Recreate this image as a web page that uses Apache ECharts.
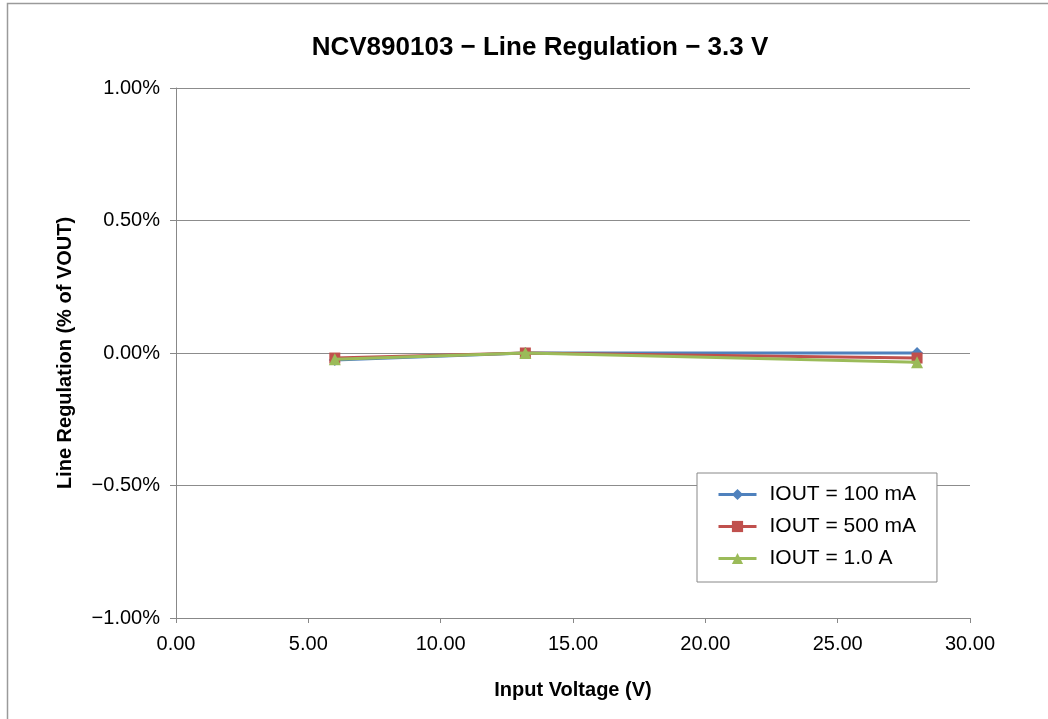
<!DOCTYPE html>
<html><head><meta charset="utf-8">
<script src="https://cdn.jsdelivr.net/npm/echarts@6/dist/echarts.min.js"></script>
<style>html,body{margin:0;padding:0;background:#fff}#c{width:1048px;height:719px}</style>
</head><body><div id="c"></div>
<script>
const inputVoltage = [6.0, 13.2, 28.0];
const iout100mA = [-0.026, 0.0, 0.0];
const iout500mA = [-0.019, 0.0, -0.019];
const iout1A = [-0.024, 0.0, -0.035];
const seriesNames = ['IOUT = 100 mA', 'IOUT = 500 mA', 'IOUT = 1.0 A'];
const seriesValues = [iout100mA, iout500mA, iout1A];
const colors = ['#4F81BD', '#C0504D', '#9BBB59'];
const symbols = ['diamond', 'rect', 'triangle'];
const symbolSizes = [12, 11, 12];

const font = '"Liberation Sans", Arial, Helvetica, sans-serif';
const chart = echarts.init(document.getElementById('c'), null, {renderer: 'canvas'});
const fmtY = v => (v < 0 ? '\u2212' + Math.abs(v).toFixed(2) : v.toFixed(2)) + '%';
chart.setOption({
  animation: false,
  textStyle: {fontFamily: font},
  graphic: [{type: 'rect', shape: {x: 7.5, y: 3.5, width: 1100, height: 800}, style: {fill: 'none', stroke: '#9a9a9a', lineWidth: 1.5}, silent: true, z: -1}],
  title: {text: 'NCV890103 \u2212 Line Regulation \u2212 3.3 V', left: 535, top: 30, textAlign: 'center',
    textStyle: {fontFamily: font, fontSize: 26, fontWeight: 'bold', color: '#000'}},
  grid: {left: 176, right: 78, top: 88, bottom: 101, containLabel: false},
  legend: {orient: 'vertical', left: 697, top: 473,
    padding: [11, 21, 13, 20], itemGap: 11, itemWidth: 38, itemHeight: 14,
    backgroundColor: '#fff', borderColor: '#888', borderWidth: 1,
    lineStyle: {width: 3},
    textStyle: {fontFamily: font, fontSize: 21, lineHeight: 20, color: '#000', padding: [0, 0, 0, 8]},
    data: seriesNames},
  xAxis: {type: 'value', min: 0, max: 30, interval: 5,
    name: 'Input Voltage (V)', nameLocation: 'middle', nameGap: 62,
    nameTextStyle: {fontFamily: font, fontSize: 20, fontWeight: 'bold', color: '#000'},
    axisLine: {show: true, onZero: false, lineStyle: {color: '#888', width: 1}},
    axisTick: {show: true, length: 5, lineStyle: {color: '#888'}},
    axisLabel: {fontFamily: font, fontSize: 20, color: '#000', margin: 16, formatter: v => v.toFixed(2)},
    splitLine: {show: false}},
  yAxis: {type: 'value', min: -1, max: 1, interval: 0.5,
    name: 'Line Regulation (% of VOUT)', nameLocation: 'middle', nameGap: 101,
    nameTextStyle: {fontFamily: font, fontSize: 20, fontWeight: 'bold', color: '#000'},
    axisLine: {show: true, onZero: false, lineStyle: {color: '#888', width: 1}},
    axisTick: {show: true, length: 6, inside: false, lineStyle: {color: '#888'}},
    axisLabel: {fontFamily: font, fontSize: 20, color: '#000', margin: 16, formatter: fmtY},
    splitLine: {show: true, lineStyle: {color: '#8c8c8c', width: 1}}},
  series: seriesNames.map((n, i) => ({
    name: n, type: 'line',
    data: inputVoltage.map((x, j) => [x, seriesValues[i][j]]),
    symbol: symbols[i], symbolSize: symbolSizes[i], showAllSymbol: true,
    lineStyle: {color: colors[i], width: 3},
    itemStyle: {color: colors[i]},
    z: 2 + i
  }))
});
</script></body></html>
